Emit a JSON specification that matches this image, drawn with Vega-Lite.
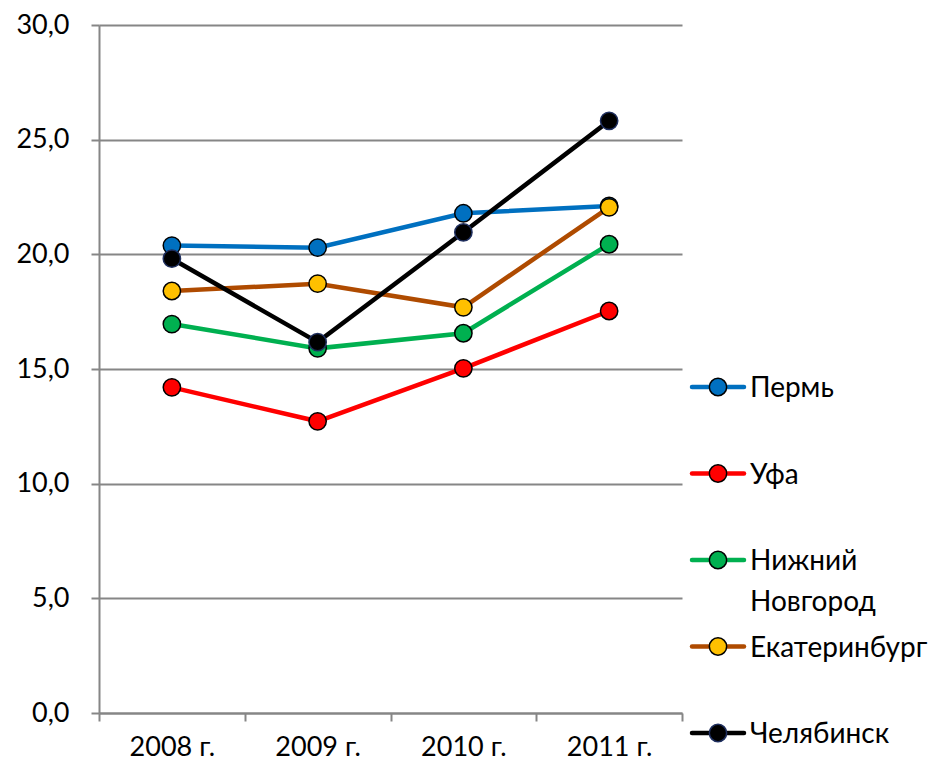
{
  "$schema": "https://vega.github.io/schema/vega-lite/v6.json",
  "background": "white",
  "padding": {"left": 15, "top": 11, "right": 0, "bottom": 0},
  "bounds": "flush",
  "config": {"view": {"stroke": null}, "concat": {"spacing": 7}},
  "datasets": {
    "main": [
      {"city": "Пермь", "year": "2008 г.", "value": 20.38},
      {"city": "Пермь", "year": "2009 г.", "value": 20.29},
      {"city": "Пермь", "year": "2010 г.", "value": 21.79},
      {"city": "Пермь", "year": "2011 г.", "value": 22.11},
      {"city": "Уфа", "year": "2008 г.", "value": 14.2},
      {"city": "Уфа", "year": "2009 г.", "value": 12.72},
      {"city": "Уфа", "year": "2010 г.", "value": 15.03},
      {"city": "Уфа", "year": "2011 г.", "value": 17.53},
      {"city": "Нижний Новгород", "year": "2008 г.", "value": 16.96},
      {"city": "Нижний Новгород", "year": "2009 г.", "value": 15.9},
      {"city": "Нижний Новгород", "year": "2010 г.", "value": 16.56},
      {"city": "Нижний Новгород", "year": "2011 г.", "value": 20.44},
      {"city": "Екатеринбург", "year": "2008 г.", "value": 18.4},
      {"city": "Екатеринбург", "year": "2009 г.", "value": 18.72},
      {"city": "Екатеринбург", "year": "2010 г.", "value": 17.69},
      {"city": "Екатеринбург", "year": "2011 г.", "value": 22.05},
      {"city": "Челябинск", "year": "2008 г.", "value": 19.81},
      {"city": "Челябинск", "year": "2009 г.", "value": 16.17},
      {"city": "Челябинск", "year": "2010 г.", "value": 20.96},
      {"city": "Челябинск", "year": "2011 г.", "value": 25.82}
    ],
    "legend": [
      {"city": "Пермь", "rank": 1},
      {"city": "Уфа", "rank": 2},
      {"city": "Нижний Новгород", "rank": 3},
      {"city": "Екатеринбург", "rank": 4},
      {"city": "Челябинск", "rank": 5}
    ]
  },
  "hconcat": [
    {
      "width": 583,
      "height": 688,
      "data": {"name": "main"},
      "encoding": {
        "x": {
          "field": "year", "type": "nominal", "sort": null,
          "scale": {"type": "band", "paddingInner": 0, "paddingOuter": 0},
          "axis": {
            "title": null, "labelAngle": 0, "tickBand": "extent", "grid": false,
            "labelFont": "Lato", "labelFontSize": 27, "labelColor": "black", "labelPadding": 13,
            "domainColor": "#868686", "domainWidth": 2, "tickColor": "#868686", "tickWidth": 2, "tickSize": 8
          }
        },
        "y": {
          "field": "value", "type": "quantitative",
          "scale": {"domain": [0, 30], "nice": false},
          "axis": {
            "title": null, "values": [0, 5, 10, 15, 20, 25, 30],
            "labelExpr": "replace(format(datum.value, '.1f'), '.', ',')",
            "labelFont": "Lato", "labelFontSize": 27, "labelColor": "black", "labelPadding": 22,
            "domainColor": "#868686", "domainWidth": 2, "tickColor": "#868686", "tickWidth": 2, "tickSize": 8,
            "gridColor": "#868686", "gridWidth": 2
          }
        }
      },
      "layer": [
        {
          "mark": {"type": "line", "strokeWidth": 4.5},
          "encoding": {
            "stroke": {
              "field": "city", "type": "nominal",
              "scale": {"domain": ["Пермь", "Уфа", "Нижний Новгород", "Екатеринбург", "Челябинск"], "range": ["#0070C0", "#FF0000", "#00B050", "#AF4B00", "#000000"]},
              "legend": null
            }
          }
        },
        {
          "mark": {"type": "point", "filled": true, "size": 300, "opacity": 1, "strokeWidth": 1.5},
          "encoding": {
            "fill": {
              "field": "city", "type": "nominal",
              "scale": {"domain": ["Пермь", "Уфа", "Нижний Новгород", "Екатеринбург", "Челябинск"], "range": ["#0070C0", "#FF0000", "#00B050", "#FFC000", "#000000"]},
              "legend": null
            },
            "stroke": {"condition": {"test": "datum.city === 'Челябинск'", "value": "#1F2F5F"}, "value": "#000000"}
          }
        }
      ]
    },
    {
      "width": 240,
      "height": 730,
      "data": {"name": "legend"},
      "encoding": {
        "y": {"field": "rank", "type": "quantitative", "scale": {"domain": [-3.185, 5.254], "reverse": true, "nice": false, "zero": false}, "axis": null}
      },
      "layer": [
        {
          "mark": {"type": "rule", "strokeWidth": 4.5, "strokeCap": "round"},
          "encoding": {
            "x": {"datum": 3, "type": "quantitative", "scale": {"domain": [0, 240], "nice": false, "zero": false}, "axis": null},
            "x2": {"datum": 55},
            "stroke": {
              "field": "city", "type": "nominal",
              "scale": {"domain": ["Пермь", "Уфа", "Нижний Новгород", "Екатеринбург", "Челябинск"], "range": ["#0070C0", "#FF0000", "#00B050", "#AF4B00", "#000000"]},
              "legend": null
            }
          }
        },
        {
          "mark": {"type": "point", "filled": true, "size": 300, "opacity": 1, "strokeWidth": 1.5},
          "encoding": {
            "x": {"datum": 29, "type": "quantitative", "scale": {"domain": [0, 240], "nice": false, "zero": false}, "axis": null},
            "fill": {
              "field": "city", "type": "nominal",
              "scale": {"domain": ["Пермь", "Уфа", "Нижний Новгород", "Екатеринбург", "Челябинск"], "range": ["#0070C0", "#FF0000", "#00B050", "#FFC000", "#000000"]},
              "legend": null
            },
            "stroke": {"condition": {"test": "datum.city === 'Челябинск'", "value": "#1F2F5F"}, "value": "#000000"}
          }
        },
        {
          "mark": {"type": "text", "align": "left", "baseline": "alphabetic", "dy": 10, "font": "Lato", "fontSize": 28, "lineBreak": " ", "lineHeight": 41, "color": "black"},
          "encoding": {
            "x": {"datum": 61, "type": "quantitative", "scale": {"domain": [0, 240], "nice": false, "zero": false}, "axis": null},
            "text": {"field": "city", "type": "nominal"}
          }
        }
      ]
    }
  ]
}
